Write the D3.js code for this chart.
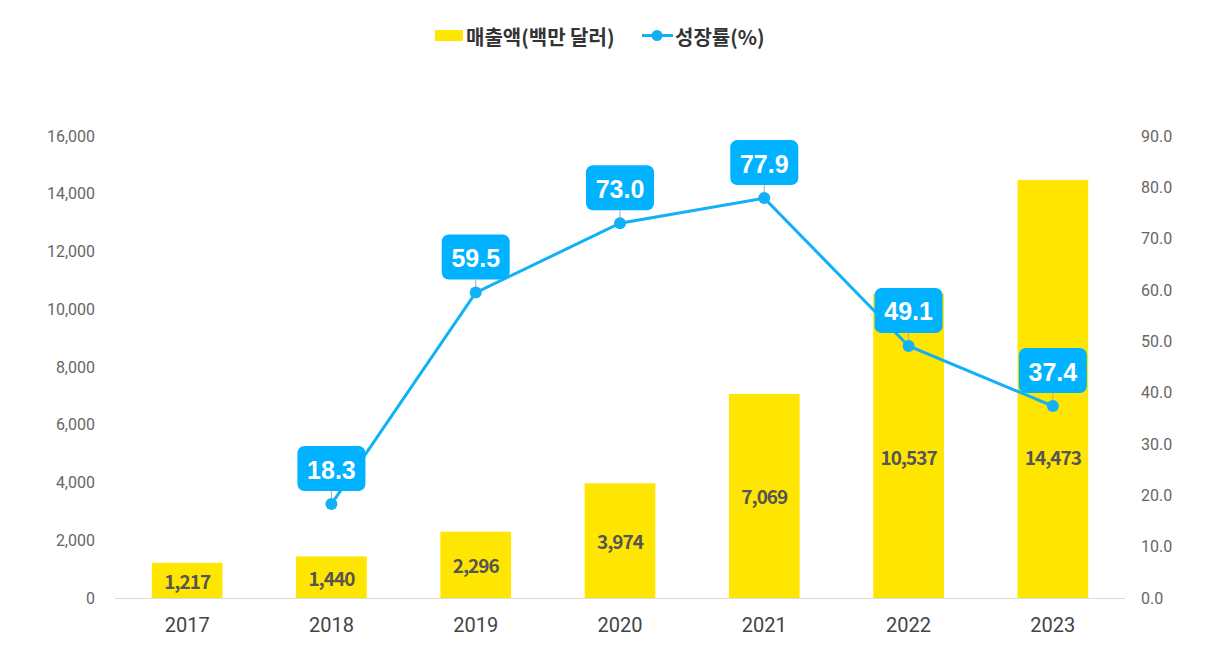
<!DOCTYPE html>
<html><head><meta charset="utf-8">
<script src="https://cdn.jsdelivr.net/npm/d3@7"></script>
<style>
html,body{margin:0;padding:0;background:#fff;}
svg{display:block;font-family:"Noto Sans CJK KR","Noto Sans",sans-serif;}
</style></head>
<body>
<svg id="chart" width="1220" height="666"></svg>
<script>
const years = ["2017","2018","2019","2020","2021","2022","2023"];
const revenue = [1217, 1440, 2296, 3974, 7069, 10537, 14473];
const growth = [null, 18.3, 59.5, 73.0, 77.9, 49.1, 37.4];
const leftTicks = [0,2000,4000,6000,8000,10000,12000,14000,16000];
const rightTicks = [0,10,20,30,40,50,60,70,80,90];
const seriesNames = ["매출액(백만 달러)", "성장률(%)"];

const svg = d3.select("#chart");
const W = 1220, H = 666;
const m = {left:115, right:95, top:136, bottom:68};
const x = d3.scaleBand().domain(years).range([m.left, W - m.right]).paddingInner(0.51).paddingOuter(0.255);
const yL = d3.scaleLinear().domain([0,16000]).range([H - m.bottom, m.top]);
const yR = d3.scaleLinear().domain([0,90]).range([H - m.bottom, m.top]);

const barColor = "#ffe600", lineColor = "#12b0f7", boxColor = "#00b2ff";
const tickFont = "Roboto,'Noto Sans',sans-serif";

// axes
const gL = svg.append("g").attr("transform", `translate(${m.left - 20},0)`)
  .call(d3.axisLeft(yL).tickValues(leftTicks).tickFormat(d3.format(",")).tickSize(0).tickPadding(0));
gL.select(".domain").remove();
gL.selectAll("text").attr("fill","#666").style("font-size","16px").style("font-family",tickFont);

const gR = svg.append("g").attr("transform", `translate(${W - m.right + 16},0)`)
  .call(d3.axisRight(yR).tickValues(rightTicks).tickFormat(d3.format(".1f")).tickSize(0).tickPadding(0));
gR.select(".domain").remove();
gR.selectAll("text").attr("fill","#666").style("font-size","16px").style("font-family",tickFont);

// baseline
svg.append("line").attr("x1", m.left).attr("x2", W - m.right)
  .attr("y1", yL(0)+0.5).attr("y2", yL(0)+0.5).attr("stroke","#d9d9d9").attr("stroke-width",1);

const gX = svg.append("g").attr("transform", `translate(0,${yL(0)})`)
  .call(d3.axisBottom(x).tickSize(0).tickPadding(20));
gX.select(".domain").remove();
gX.selectAll("text").attr("fill","#444").style("font-size","20px").style("font-family",tickFont);

// bars
svg.append("g").selectAll("rect").data(years).join("rect")
  .attr("x", d => x(d)).attr("width", x.bandwidth())
  .attr("y", (d,i) => yL(revenue[i])).attr("height", (d,i) => yL(0) - yL(revenue[i]))
  .attr("fill", barColor);

svg.append("g").selectAll("text").data(years).join("text")
  .attr("x", d => x(d) + x.bandwidth()/2)
  .attr("y", (d,i) => yL(Math.min(revenue[i]/2, 4900)))
  .attr("text-anchor","middle").attr("dominant-baseline","central")
  .attr("fill","#555").style("font-size","19px").style("font-weight","700")
  .style("letter-spacing","-1px")
  .text((d,i) => d3.format(",")(revenue[i]));

// line
const pts = years.map((d,i) => ({d, v: growth[i]})).filter(p => p.v != null);
const cx = p => x(p.d) + x.bandwidth()/2;
svg.append("path").datum(pts)
  .attr("d", d3.line().x(cx).y(p => yR(p.v)))
  .attr("fill","none").attr("stroke", lineColor).attr("stroke-width",3);

// callouts
const bw = 68, bh = 45, gap = 13;
const cg = svg.append("g").selectAll("g").data(pts).join("g");
cg.append("line")
  .attr("x1", cx).attr("x2", cx)
  .attr("y1", p => yR(p.v) - gap).attr("y2", p => yR(p.v))
  .attr("stroke","#aaa").attr("stroke-width",1);
svg.append("g").selectAll("circle").data(pts).join("circle")
  .attr("cx", cx).attr("cy", p => yR(p.v)).attr("r",6).attr("fill", lineColor);
cg.append("rect")
  .attr("x", p => cx(p) - bw/2).attr("y", p => yR(p.v) - gap - bh)
  .attr("width", bw).attr("height", bh).attr("rx",7).attr("fill", boxColor);
cg.append("text")
  .attr("x", cx).attr("y", p => yR(p.v) - gap - bh/2 + 1)
  .attr("text-anchor","middle").attr("dominant-baseline","central")
  .attr("fill","#fff").style("font-size","25px").style("font-weight","700")
  .style("font-family","'Liberation Sans',Arial,sans-serif")
  .text(p => d3.format(".1f")(p.v));

// legend
const lg = svg.append("g");
lg.append("rect").attr("x",435).attr("y",30).attr("width",28).attr("height",11).attr("fill",barColor);
lg.append("text").attr("x",466).attr("y",36).attr("dominant-baseline","central")
  .attr("fill","#333").style("font-size","20px").style("font-weight","700").text(seriesNames[0]);
lg.append("line").attr("x1",642).attr("x2",673).attr("y1",35.5).attr("y2",35.5).attr("stroke",lineColor).attr("stroke-width",3);
lg.append("circle").attr("cx",657).attr("cy",35.5).attr("r",5.5).attr("fill",lineColor);
lg.append("text").attr("x",675).attr("y",36).attr("dominant-baseline","central")
  .attr("fill","#333").style("font-size","20px").style("font-weight","700").text(seriesNames[1]);
</script>
</body></html>
